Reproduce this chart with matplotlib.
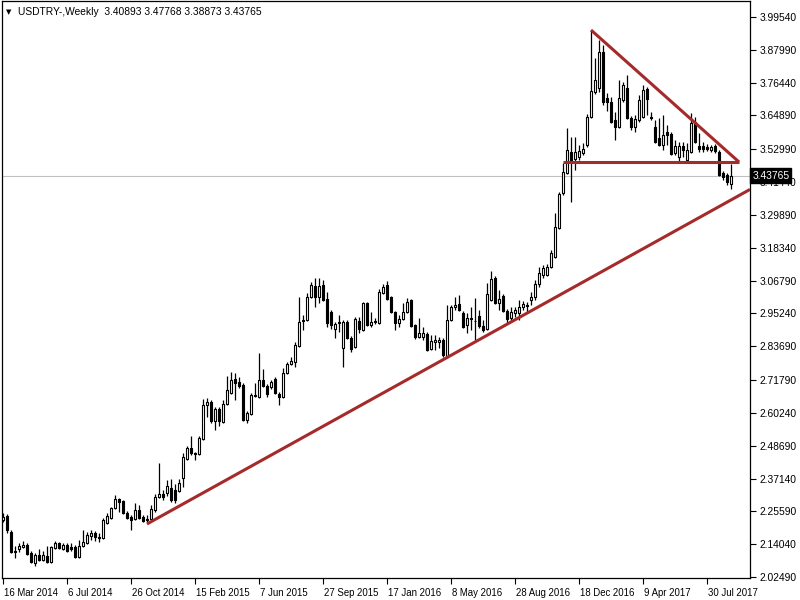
import matplotlib
matplotlib.use("Agg")
import matplotlib.pyplot as plt
from matplotlib.patches import Rectangle
from matplotlib.collections import PatchCollection
import matplotlib.transforms as mtransforms

plt.rcParams['font.family'] = ['Liberation Sans', 'DejaVu Sans']

# ---- data (weekly USDTRY candles, first week 16 Mar 2014) ----
opens = [2.2255, 2.2396, 2.1833, 2.1130, 2.1235, 2.1306, 2.1376, 2.1094, 2.0742, 2.1024,
         2.0848, 2.0989, 2.0778, 2.1271, 2.1446, 2.1235, 2.1376, 2.1306, 2.1306, 2.0954,
         2.1340, 2.1446, 2.1692, 2.1798, 2.1657, 2.1622, 2.2150, 2.2326, 2.2678, 2.2994,
         2.2924, 2.2502, 2.2361, 2.2291, 2.2607, 2.2361, 2.2238, 2.2291, 2.2607, 2.3065,
         2.3170, 2.3205, 2.3381, 2.3311, 2.3276, 2.3733, 2.4401, 2.4788, 2.4612, 2.4577,
         2.5105, 2.6302, 2.6408, 2.5739, 2.6161, 2.5704, 2.6337, 2.6724, 2.7217, 2.7111,
         2.7006, 2.5774, 2.5985, 2.6619, 2.6584, 2.7182, 2.6971, 2.6935, 2.7217, 2.6689,
         2.6584, 2.7428, 2.7745, 2.7815, 2.8378, 2.9258, 2.9293, 3.0103, 3.0490, 3.0103,
         3.0525, 3.0032, 2.9575, 2.8977, 2.9170, 2.8308, 2.9223, 2.8660, 2.8343, 2.9258,
         2.8941, 2.9891, 2.9117, 2.9205, 2.9188, 3.0243, 3.0525, 3.0103, 2.9575, 2.9188,
         2.9328, 2.9575, 2.9997, 2.9117, 2.8695, 2.8695, 2.8801, 2.8273, 2.8519, 2.8519,
         2.8589, 2.7991, 2.9293, 2.9751, 2.9856, 2.9540, 2.9117, 2.9311, 2.9240, 2.9434,
         2.9082, 2.8977, 2.9997, 3.0771, 2.9891, 3.0138, 2.9610, 2.9364, 2.9540, 2.9540,
         2.9751, 2.9786, 2.9997, 3.0103, 3.0560, 3.0877, 3.0877, 3.1158, 3.1510, 3.2530,
         3.3761, 3.4465, 3.5205, 3.4958, 3.5029, 3.5169, 3.5451, 3.6436, 3.7316, 3.7456,
         3.8724, 3.7104, 3.6964, 3.6331, 3.6084, 3.7034, 3.7456, 3.6401, 3.6084, 3.6331,
         3.6436, 3.7421, 3.6436, 3.6084, 3.5697, 3.5451, 3.5908, 3.5838, 3.5169, 3.5029,
         3.5416, 3.4923, 3.5205, 3.6260, 3.5416, 3.5416, 3.5380, 3.5275, 3.5416, 3.5205,
         3.4465, 3.4395, 3.40893]
highs = [2.2502, 2.2466, 2.1903, 2.1340, 2.1446, 2.1516, 2.1446, 2.1165, 2.1094, 2.1235,
         2.1165, 2.1340, 2.1340, 2.1516, 2.1481, 2.1446, 2.1446, 2.1446, 2.1376, 2.1552,
         2.1903, 2.1833, 2.1903, 2.1868, 2.1798, 2.2326, 2.2502, 2.2713, 2.3135, 2.3029,
         2.2959, 2.2572, 2.2431, 2.2853, 2.2783, 2.2431, 2.2431, 2.2783, 2.3170, 2.4261,
         2.3311, 2.3663, 2.3698, 2.3522, 2.3698, 2.4613, 2.4859, 2.5211, 2.4648, 2.5211,
         2.6513, 2.6548, 2.6478, 2.6232, 2.6231, 2.6478, 2.7323, 2.7463, 2.7428, 2.7287,
         2.7076, 2.6091, 2.6724, 2.7076, 2.8132, 2.7569, 2.7041, 2.7182, 2.7287, 2.6759,
         2.7604, 2.7815, 2.7991, 2.8519, 3.0103, 2.9469, 3.0243, 3.0630, 3.0771, 3.0771,
         3.0701, 3.0278, 2.9645, 2.9223, 2.9469, 2.9293, 2.9293, 2.8730, 2.9399, 2.9399,
         2.9927, 2.9927, 2.9575, 2.9364, 3.0384, 3.0560, 3.0666, 3.0138, 2.9610, 2.9469,
         2.9891, 3.0067, 3.0032, 2.9153, 2.9364, 2.9047, 2.8871, 2.8765, 2.8765, 2.8695,
         2.8660, 2.9821, 2.9821, 3.0103, 3.0173, 2.9610, 2.9540, 2.9751, 3.0067, 2.9645,
         2.9293, 3.0595, 3.1017, 3.0841, 3.0349, 3.0208, 2.9680, 2.9751, 2.9751, 2.9997,
         2.9962, 2.9927, 3.0278, 3.0701, 3.1158, 3.1229, 3.1264, 3.1756, 3.3058, 3.3797,
         3.4817, 3.6049, 3.5732, 3.5733, 3.5451, 3.5521, 3.6542, 3.9497, 3.8513, 3.9145,
         3.8970, 3.7280, 3.7139, 3.6612, 3.7738, 3.7667, 3.7914, 3.6471, 3.6506, 3.7210,
         3.7562, 3.7491, 3.6612, 3.6331, 3.6401, 3.6506, 3.6155, 3.5908, 3.5627, 3.5556,
         3.5556, 3.5521, 3.6577, 3.6436, 3.5873, 3.5556, 3.5486, 3.5451, 3.5486, 3.5275,
         3.4536, 3.4465, 3.47768]
lows = [2.2185, 2.1798, 2.1094, 2.0918, 2.1130, 2.1271, 2.1024, 2.0742, 2.0637, 2.0813,
        2.0813, 2.0742, 2.0742, 2.1235, 2.1235, 2.1200, 2.1130, 2.1165, 2.0918, 2.0918,
        2.1306, 2.1411, 2.1552, 2.1516, 2.1481, 2.1587, 2.2115, 2.2291, 2.2643, 2.2537,
        2.2466, 2.2291, 2.1903, 2.2255, 2.2291, 2.2185, 2.2150, 2.2255, 2.2537, 2.3029,
        2.2959, 2.3100, 2.2889, 2.2853, 2.3240, 2.3417, 2.4366, 2.4542, 2.4366, 2.4542,
        2.5070, 2.5879, 2.5669, 2.5422, 2.5563, 2.5669, 2.6302, 2.6689, 2.6478, 2.6900,
        2.5739, 2.5669, 2.5950, 2.6584, 2.6548, 2.6935, 2.6584, 2.6865, 2.6689, 2.6302,
        2.6548, 2.7393, 2.7710, 2.7639, 2.8343, 2.8941, 2.9258, 3.0067, 2.9751, 2.9891,
        2.9962, 2.9047, 2.8977, 2.8660, 2.8871, 2.7639, 2.8625, 2.8167, 2.8308, 2.8836,
        2.8906, 2.9082, 2.9047, 2.9153, 2.9153, 3.0208, 2.9997, 2.9540, 2.8941, 2.9047,
        2.9293, 2.9540, 2.9047, 2.8625, 2.8660, 2.8589, 2.8202, 2.8238, 2.8238, 2.8308,
        2.7991, 2.7956, 2.9258, 2.9645, 2.9610, 2.9012, 2.8836, 2.8941, 2.8589, 2.9012,
        2.8871, 2.8941, 2.9962, 2.9856, 2.9645, 2.9575, 2.9188, 2.9223, 2.9399, 2.9293,
        2.9645, 2.9540, 2.9821, 2.9997, 3.0454, 3.0771, 3.0841, 3.1123, 3.1475, 3.2495,
        3.3691, 3.4430, 3.3445, 3.4571, 3.4923, 3.5099, 3.5380, 3.6401, 3.7245, 3.7316,
        3.6858, 3.6648, 3.6225, 3.5627, 3.6049, 3.6964, 3.6366, 3.5978, 3.5908, 3.6260,
        3.6401, 3.6506, 3.6331, 3.5521, 3.5416, 3.5275, 3.5451, 3.5099, 3.5099, 3.4853,
        3.5029, 3.4853, 3.5169, 3.5521, 3.5205, 3.5205, 3.5240, 3.5205, 3.5169, 3.4360,
        3.4219, 3.4043, 3.38873]
closes = [2.2361, 2.1903, 2.1130, 2.1165, 2.1340, 2.1376, 2.1060, 2.0778, 2.1024, 2.0848,
          2.1024, 2.0778, 2.1306, 2.1446, 2.1271, 2.1376, 2.1165, 2.1235, 2.0954, 2.1340,
          2.1481, 2.1727, 2.1798, 2.1657, 2.1622, 2.2255, 2.2396, 2.2678, 2.2994, 2.2889,
          2.2502, 2.2326, 2.2255, 2.2607, 2.2326, 2.2220, 2.2273, 2.2643, 2.3065, 2.3170,
          2.3065, 2.3452, 2.2959, 2.2959, 2.3557, 2.4472, 2.4788, 2.4612, 2.4577, 2.5140,
          2.6302, 2.6408, 2.5739, 2.6161, 2.5739, 2.6337, 2.6830, 2.7182, 2.7076, 2.6971,
          2.5774, 2.6021, 2.6654, 2.6654, 2.7182, 2.6971, 2.6689, 2.7111, 2.6724, 2.6584,
          2.7428, 2.7745, 2.7850, 2.8413, 2.9223, 2.9293, 3.0103, 3.0525, 3.0103, 3.0490,
          2.9997, 2.9188, 2.9117, 2.9153, 2.9205, 2.9223, 2.8660, 2.8273, 2.9328, 2.8977,
          2.9891, 2.9117, 2.9223, 2.9240, 3.0278, 3.0454, 3.0032, 2.9575, 2.9188, 2.9328,
          2.9575, 2.9927, 2.9082, 2.8695, 2.8836, 2.8836, 2.8238, 2.8554, 2.8589, 2.8589,
          2.8062, 2.9293, 2.9751, 2.9821, 2.9645, 2.9047, 2.9364, 2.9346, 2.9275, 2.9082,
          2.8941, 3.0208, 3.0736, 2.9891, 3.0032, 2.9610, 2.9328, 2.9575, 2.9645, 2.9751,
          2.9856, 2.9821, 3.0103, 3.0560, 3.0947, 3.1123, 3.1158, 3.1651, 3.2565, 3.3726,
          3.4500, 3.5275, 3.4853, 3.5205, 3.5240, 3.5310, 3.6436, 3.7351, 3.7738, 3.8724,
          3.6964, 3.6964, 3.6260, 3.6084, 3.7104, 3.7562, 3.6401, 3.6084, 3.6366, 3.7034,
          3.7386, 3.7069, 3.6401, 3.5556, 3.5451, 3.5803, 3.5803, 3.5134, 3.5416, 3.5416,
          3.5275, 3.5275, 3.6225, 3.5556, 3.5310, 3.5310, 3.5310, 3.5380, 3.5240, 3.4395,
          3.4325, 3.4149, 3.43765]

x_tick_bars = [0, 16, 32, 48, 64, 80, 96, 112, 128, 144, 160, 176]
x_tick_labels = ["16 Mar 2014", "6 Jul 2014", "26 Oct 2014", "15 Feb 2015", "7 Jun 2015",
                 "27 Sep 2015", "17 Jan 2016", "8 May 2016", "28 Aug 2016", "18 Dec 2016",
                 "9 Apr 2017", "30 Jul 2017"]
y_ticks = [3.99540, 3.87990, 3.76440, 3.64890, 3.52990, 3.41440, 3.29890, 3.18340,
           3.06790, 2.95240, 2.83690, 2.71790, 2.60240, 2.48690, 2.37140, 2.25590,
           2.14040, 2.02490]
y_tick_labels = ["%.5f" % v for v in y_ticks]

last_price = 3.43765
header = "USDTRY-,Weekly  3.40893 3.47768 3.38873 3.43765"

# drawn objects (bar index, price)
support_pts = [(36, 2.2115), (111, 2.7972)]      # ray extended to the right
resist_pts = [(147, 3.9497), (184, 3.4853)]
neck_pts = [(140, 3.4853), (184, 3.4853)]

LINE_COLOR = "#A52A2A"

# ---- figure ----
fig = plt.figure(figsize=(8, 6), dpi=100)
fig.patch.set_facecolor("white")
ax = fig.add_axes([2 / 800, 22 / 600, 748 / 800, 577 / 600])
ax.set_facecolor("white")
ax.set_xlim(-0.25, 186.75)
ax.set_ylim(2.0214, 4.0518)

# current price line
ax.axhline(last_price, color="#C0C0C0", lw=0.8, zorder=1)

# candles
n = len(opens)
w = 0.5
rects_up, rects_dn = [], []
for i in range(n):
    o, h, l, c = opens[i], highs[i], lows[i], closes[i]
    ax.vlines(i, l, h, color="black", lw=0.9, zorder=2)
    lo, hi = min(o, c), max(o, c)
    r = Rectangle((i - w / 2, lo), w, max(hi - lo, 0.0005))
    (rects_up if c >= o else rects_dn).append(r)
ax.add_collection(PatchCollection(rects_up, facecolor="white", edgecolor="black",
                                  linewidth=0.8, zorder=3))
ax.add_collection(PatchCollection(rects_dn, facecolor="black", edgecolor="black",
                                  linewidth=0.8, zorder=3))

# trend lines
(x0, y0), (x1, y1) = support_pts
slope = (y1 - y0) / (x1 - x0)
xe = 186.75
ax.plot([x0, xe], [y0, y0 + slope * (xe - x0)], color=LINE_COLOR, lw=2.2,
        solid_capstyle="butt", zorder=4, clip_on=True)
ax.plot([p[0] for p in resist_pts], [p[1] for p in resist_pts], color=LINE_COLOR,
        lw=2.2, solid_capstyle="butt", zorder=4)
ax.plot([p[0] for p in neck_pts], [p[1] for p in neck_pts], color=LINE_COLOR,
        lw=2.2, solid_capstyle="butt", zorder=4)

# axes styling
for s in ax.spines.values():
    s.set_color("black")
    s.set_linewidth(0.9)
ax.yaxis.tick_right()
ax.set_yticks(y_ticks)
ax.set_yticklabels(y_tick_labels)
ax.tick_params(axis="y", direction="out", length=4, width=0.8, pad=3,
               labelsize=7.4, colors="black")
ax.set_xticks(x_tick_bars)
ax.set_xticklabels(x_tick_labels)
ax.tick_params(axis="x", direction="out", length=4, width=0.8, pad=3,
               labelsize=6.9, colors="black")
for lab in ax.get_xticklabels():
    lab.set_horizontalalignment("left")
    lab.set_transform(lab.get_transform() + mtransforms.ScaledTranslation(1 / 100, 0, fig.dpi_scale_trans))

# last price label (covers the neighbouring axis label, as in the terminal)
trans = mtransforms.blended_transform_factory(ax.transAxes, ax.transData)
ax.text(1.003, last_price, "%.5f" % last_price, transform=trans, ha="left", va="center",
        fontsize=7.4, color="white", zorder=10,
        bbox=dict(boxstyle="square,pad=0.2", facecolor="black", edgecolor="black"))

# header
fig.text(6 / 800, 1 - 12 / 600, "\u25BC", fontsize=5, va="center", ha="left",
         family="DejaVu Sans")
fig.text(18 / 800, 1 - 12 / 600, header, fontsize=7.4, va="center", ha="left")

fig.savefig("out.png", dpi=100)
